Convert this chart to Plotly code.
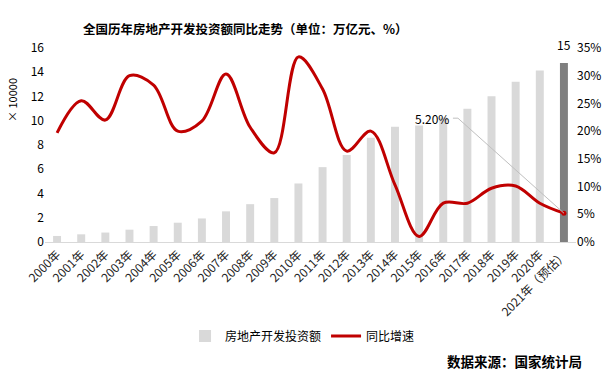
import plotly.graph_objects as go

years = ["2000年", "2001年", "2002年", "2003年", "2004年", "2005年", "2006年", "2007年",
         "2008年", "2009年", "2010年", "2011年", "2012年", "2013年", "2014年", "2015年",
         "2016年", "2017年", "2018年", "2019年", "2020年", "2021年（预估）"]
investment = [0.498, 0.634, 0.779, 1.015, 1.316, 1.591, 1.942, 2.529, 3.120, 3.624, 4.826,
              6.174, 7.180, 8.601, 9.504, 9.598, 10.258, 10.980, 12.026, 13.219, 14.144, 14.76]
growth = [19.7, 25.5, 22.0, 30.0, 28.3, 20.0, 21.8, 30.3, 20.7, 16.1, 33.4, 27.6,
          16.4, 20.0, 10.3, 1.0, 7.0, 7.0, 9.7, 10.1, 7.0, 5.2]

FONT = "Noto Sans CJK SC"
bar_colors = ["#d9d9d9"] * (len(years) - 1) + ["#7f7f7f"]

fig = go.Figure()
fig.add_trace(go.Bar(x=years, y=investment, name="房地产开发投资额",
                     marker=dict(color=bar_colors, line=dict(width=0)), width=0.33))
fig.add_trace(go.Scatter(x=years, y=growth, name="同比增速", yaxis="y2", mode="lines",
                         line=dict(color="#c00000", width=3, shape="spline", smoothing=1)))
fig.add_trace(go.Scatter(x=years[-1:], y=growth[-1:], yaxis="y2", mode="markers",
                         showlegend=False, marker=dict(size=5, color="#c00000")))

fig.update_layout(
    width=606, height=389,
    margin=dict(l=45, r=30, t=48, b=147),
    paper_bgcolor="white", plot_bgcolor="white",
    font=dict(family=FONT, size=11, color="#000000"),
    showlegend=True,
    legend=dict(orientation="h", x=0.485, xanchor="center", y=-0.485, yanchor="middle",
                font=dict(size=12, family=FONT), itemwidth=30, tracegroupgap=0),
    xaxis=dict(type="category", range=[-0.5, len(years) - 0.5], tickangle=-45,
               showline=True, linecolor="#d9d9d9", linewidth=1, ticks="", automargin=False,
               tickfont=dict(size=12, color="#222222", family=FONT)),
    yaxis=dict(range=[0, 16], dtick=2, showgrid=False, zeroline=False, automargin=False,
               tickfont=dict(size=12), ticks=""),
    yaxis2=dict(range=[0, 35], dtick=5, ticksuffix="%", overlaying="y", side="right",
                automargin=False,
                showgrid=False, zeroline=False, tickfont=dict(size=12), ticks=""),
)

fig.add_annotation(text="<b>全国历年房地产开发投资额同比走势（单位：万亿元、%）</b>",
                   xref="paper", yref="paper", x=(245 - 45) / 531, xanchor="center",
                   y=(242 - 17) / 194, showarrow=False, font=dict(size=12.5, family=FONT))
fig.add_annotation(text="× 10000", textangle=-90, xref="paper", yref="paper",
                   x=(12 - 45) / 531, xanchor="center", y=(242 - 76) / 194, showarrow=False,
                   font=dict(size=11, family=FONT))
fig.add_annotation(text=f"{round(investment[-1])}", x=years[-1], y=investment[-1],
                   yanchor="bottom", yshift=8, showarrow=False, font=dict(size=12))
fig.add_annotation(text="<b>数据来源：国家统计局</b>", xref="paper", yref="paper",
                   x=(584 - 45) / 531, xanchor="right", y=(242 - 373) / 194,
                   showarrow=False, font=dict(size=13.5, family=FONT))
fig.add_annotation(text=f"{growth[-1]:.2f}%", x=years[-1], y=growth[-1], yref="y2",
                   xshift=-132, yshift=95, showarrow=False, font=dict(size=12))
fig.add_shape(type="line", xref="x", yref="y2", xsizemode="pixel", ysizemode="pixel",
              xanchor=years[-1], yanchor=growth[-1], x0=-106, y0=95, x1=0, y1=0,
              line=dict(color="#bfbfbf", width=1))
fig.add_shape(type="line", xref="x", yref="y2", xsizemode="pixel", ysizemode="pixel",
              xanchor=years[-1], yanchor=growth[-1], x0=-111, y0=95, x1=-106, y1=95,
              line=dict(color="#bfbfbf", width=1))

fig.write_html("out.html", config={"displayModeBar": False},
               post_script="document.body.style.margin='0';")
